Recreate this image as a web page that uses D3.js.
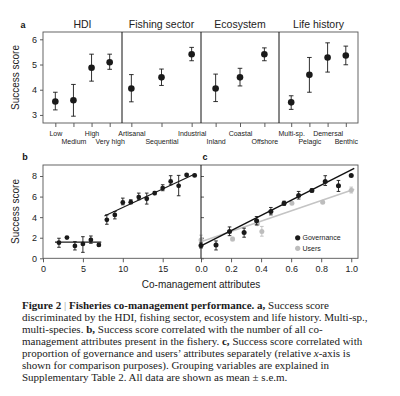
<!DOCTYPE html>
<html><head><meta charset="utf-8">
<script src="https://cdn.jsdelivr.net/npm/d3@7"></script>
<style>
body{margin:0;background:#fff;}
svg{display:block;}
.cap{font-family:"Liberation Serif","Times New Roman",serif;font-size:11px;fill:#1a1a1a;}
</style></head><body>
<svg id="chart" width="400" height="396"></svg>
<script>
// ---------- DATA ----------
const panelTitles = ["HDI", "Fishing sector", "Ecosystem", "Life history"];
const hdiCats = ["Low", "Medium", "High", "Very high"];
const hdiMean = [3.53, 3.58, 4.87, 5.09];
const hdiLo   = [3.20, 2.95, 4.34, 4.81];
const hdiHi   = [3.90, 4.21, 5.41, 5.41];
const sectorCats = ["Artisanal", "Sequential", "Industrial"];
const sectorMean = [4.05, 4.49, 5.41];
const sectorLo   = [3.52, 4.17, 5.15];
const sectorHi   = [4.60, 4.82, 5.68];
const ecoCats = ["Inland", "Coastal", "Offshore"];
const ecoMean = [4.05, 4.49, 5.41];
const ecoLo   = [3.53, 4.15, 5.15];
const ecoHi   = [4.62, 4.85, 5.66];
const lifeCats = ["Multi-sp.", "Pelagic", "Demersal", "Benthic"];
const lifeMean = [3.50, 4.59, 5.28, 5.36];
const lifeLo   = [3.22, 3.90, 4.70, 4.99];
const lifeHi   = [3.76, 5.28, 5.86, 5.73];
const aYTicks = [3, 4, 5, 6];

const bX    = [2, 3, 4, 5, 6, 7, 8, 9, 10, 11, 12, 13, 14, 15, 16, 17, 18, 19];
const bMean = [1.52, 2.01, 1.20, 1.40, 1.78, 1.30, 3.74, 4.22, 5.43, 5.46, 5.95, 5.79, 6.34, 6.83, 7.47, 7.05, 8.10, 8.06];
const bLo   = [1.07, 1.95, 0.81, 0.58, 1.46, 1.22, 3.31, 3.83, 5.20, 5.30, 5.69, 5.27, 6.18, 6.57, 7.15, 6.08, 8.03, 7.95];
const bHi   = [1.95, 2.07, 1.62, 2.10, 2.17, 1.38, 4.22, 4.55, 5.85, 5.69, 6.34, 6.34, 6.50, 7.15, 8.03, 8.06, 8.17, 8.15];
// fitted lines in b: [xStart, xEnd, intercept, slope]
const bFitFlat = [1.5, 7.3, 1.58, 0];
const bFitLin  = [7.7, 19.1, 1.34, 0.36];
const bYTicks = [0, 2, 4, 6, 8];
const bXTicks = [0, 5, 10, 15];

const govX    = [0.0, 0.10, 0.19, 0.287, 0.37, 0.465, 0.553, 0.65, 0.738, 0.827, 0.915, 1.0];
const govMean = [1.25, 1.30, 2.60, 2.50, 3.64, 4.55, 5.36, 6.11, 6.60, 7.47, 7.05, 8.06];
const govLo   = [1.00, 0.81, 2.20, 2.05, 3.25, 4.22, 5.15, 5.76, 6.45, 7.08, 6.50, 7.95];
const govHi   = [1.50, 1.69, 3.05, 2.93, 4.06, 4.94, 5.55, 6.50, 6.75, 8.03, 7.57, 8.15];
const usrX    = [0.0, 0.21, 0.375, 0.405, 0.605, 0.81, 1.0];
const usrMean = [1.78, 1.88, 3.35, 2.60, 5.36, 5.46, 6.62];
const usrLo   = [1.35, 1.70, 3.20, 2.15, 5.25, 5.35, 6.35];
const usrHi   = [2.25, 2.05, 3.50, 3.10, 5.48, 5.58, 6.92];
// fitted lines in c: [xStart, xEnd, intercept, slope]
const govFit = [0, 1.02, 1.20, 7.40];
const usrFit = [0, 1.02, 1.62, 5.00];
const cXTicks = [0, 0.2, 0.4, 0.6, 0.8, 1.0];
const legendLabels = ["Governance", "Users"];

const captionLines = [
  [["Figure 2 ", "b"], ["| ", "sep"], ["Fisheries co-management performance.", "b"], ["  ", ""], ["a,", "b"], [" Success score", ""]],
  [["discriminated by the HDI, fishing sector, ecosystem and life history. Multi-sp.,", ""]],
  [["multi-species. ", ""], ["b,", "b"], [" Success score correlated with the number of all co-", ""]],
  [["management attributes present in the fishery. ", ""], ["c,", "b"], [" Success score correlated with", ""]],
  [["proportion of governance and users\u2019 attributes separately (relative ", ""], ["x", "i"], ["-axis is", ""]],
  [["shown for comparison purposes). Grouping variables are explained in", ""]],
  [["Supplementary Table 2. All data are shown as mean \u00b1 s.e.m.", ""]]
];

// ---------- LAYOUT ----------
const sans = "'Liberation Sans', Arial, Helvetica, sans-serif";
const svg = d3.select("#chart");
const ink = "#1a1a1a";

// Panel a
const aTop = 32, aBot = 123;
const aBounds = [43, 122, 201, 279, 358];
const aPad = [0.68, 0.31, 0.6, 0.67];
const aStagger = [[0,1,0,1],[0,1,0],[1,0,1],[0,1,0,1]];
const yA = d3.scaleLinear().domain([2.68, 6.29]).range([aBot, aTop]);

const aGroups = [
  {cats: hdiCats, m: hdiMean, lo: hdiLo, hi: hdiHi},
  {cats: sectorCats, m: sectorMean, lo: sectorLo, hi: sectorHi},
  {cats: ecoCats, m: ecoMean, lo: ecoLo, hi: ecoHi},
  {cats: lifeCats, m: lifeMean, lo: lifeLo, hi: lifeHi}
];

function styleAxis(g, size) {
  g.select(".domain").remove();
  g.selectAll(".tick line").attr("stroke", "#333").attr("stroke-width", 0.8);
  g.selectAll("text").attr("font-family", sans).attr("font-size", size).attr("fill", "#222");
}

function errBars(g, data, xs, ys, color, cap, r) {
  const gg = g.append("g");
  data.forEach(d => {
    const x = xs(d.x);
    gg.append("line").attr("x1", x).attr("x2", x).attr("y1", ys(d.lo)).attr("y2", ys(d.hi))
      .attr("stroke", color).attr("stroke-width", 0.9);
    [d.lo, d.hi].forEach(v => gg.append("line").attr("x1", x - cap).attr("x2", x + cap)
      .attr("y1", ys(v)).attr("y2", ys(v)).attr("stroke", color).attr("stroke-width", 0.9));
  });
  gg.selectAll("circle").data(data).join("circle")
    .attr("cx", d => xs(d.x)).attr("cy", d => ys(d.m)).attr("r", r).attr("fill", color);
}

// left y axis a
svg.append("g").attr("transform", `translate(${aBounds[0]},0)`)
  .call(d3.axisLeft(yA).tickValues(aYTicks).tickSize(3).tickPadding(3).tickFormat(d3.format("d")))
  .call(g => styleAxis(g, 9));

aGroups.forEach((grp, i) => {
  const xs = d3.scalePoint().domain(grp.cats).range([aBounds[i], aBounds[i+1]]).padding(aPad[i]);
  const ax = svg.append("g").attr("transform", `translate(0,${aBot})`)
    .call(d3.axisBottom(xs).tickSize(4).tickPadding(2));
  styleAxis(ax, 7);
  ax.selectAll(".tick text").attr("dy", 0).attr("y", (d, j) => aStagger[i][j] ? 21 : 12.5);
  svg.append("text").attr("x", (aBounds[i] + aBounds[i+1]) / 2).attr("y", 27.5)
    .attr("text-anchor", "middle").attr("font-family", sans).attr("font-size", 10.5)
    .attr("fill", "#222").text(panelTitles[i]);
  const data = grp.cats.map((c, j) => ({x: c, m: grp.m[j], lo: grp.lo[j], hi: grp.hi[j]}));
  errBars(svg, data, xs, yA, ink, 2.3, 3.3);
});

// frame a
svg.append("rect").attr("x", aBounds[0]).attr("y", aTop).attr("width", aBounds[4] - aBounds[0])
  .attr("height", aBot - aTop).attr("fill", "none").attr("stroke", "#555").attr("stroke-width", 0.9);
aBounds.slice(1, 4).forEach(x => svg.append("line").attr("x1", x).attr("x2", x)
  .attr("y1", aTop).attr("y2", aBot).attr("stroke", "#111").attr("stroke-width", 1));

// Panel b & c
const bTop = 165, bBot = 258.3, bL = 43, bR = 201, cR = 358;
const yB = d3.scaleLinear().domain([0, 9.07]).range([bBot, bTop]);
const xB = d3.scaleLinear().domain([0, 19.8]).range([bL, bR]);
const xC = d3.scaleLinear().domain([0, 1.045]).range([bR, cR]);

svg.append("g").attr("transform", `translate(${bL},0)`)
  .call(d3.axisLeft(yB).tickValues(bYTicks).tickSize(3).tickPadding(3).tickFormat(d3.format("d")))
  .call(g => styleAxis(g, 9));
svg.append("g").attr("transform", `translate(${bR},0)`)
  .call(d3.axisRight(yB).tickValues(bYTicks).tickSize(3).tickFormat(""))
  .call(g => styleAxis(g, 9));
svg.append("g").attr("transform", `translate(0,${bBot})`)
  .call(d3.axisBottom(xB).tickValues(bXTicks).tickSize(4).tickPadding(3).tickFormat(d3.format("d")))
  .call(g => styleAxis(g, 9));
svg.append("g").attr("transform", `translate(0,${bBot})`)
  .call(d3.axisBottom(xC).tickValues(cXTicks).tickSize(4).tickPadding(3).tickFormat(d3.format(".1f")))
  .call(g => styleAxis(g, 9));

function fitLine(fit, xs, color, w) {
  svg.append("line").attr("x1", xs(fit[0])).attr("x2", xs(fit[1]))
    .attr("y1", yB(fit[2] + fit[3] * fit[0])).attr("y2", yB(fit[2] + fit[3] * fit[1]))
    .attr("stroke", color).attr("stroke-width", w);
}
fitLine(bFitFlat, xB, ink, 1.2);
fitLine(bFitLin, xB, ink, 1.2);
errBars(svg, bX.map((x, j) => ({x, m: bMean[j], lo: bLo[j], hi: bHi[j]})), xB, yB, ink, 1.8, 2.4);

const gray = "#bdbdbd";
fitLine(usrFit, xC, "#c4c4c4", 1.6);
errBars(svg, usrX.map((x, j) => ({x, m: usrMean[j], lo: usrLo[j], hi: usrHi[j]})), xC, yB, gray, 1.8, 2.5);
fitLine(govFit, xC, "#111", 1.4);
errBars(svg, govX.map((x, j) => ({x, m: govMean[j], lo: govLo[j], hi: govHi[j]})), xC, yB, ink, 1.8, 2.5);

// frame b/c
svg.append("rect").attr("x", bL).attr("y", bTop).attr("width", cR - bL).attr("height", bBot - bTop)
  .attr("fill", "none").attr("stroke", "#555").attr("stroke-width", 0.9);
svg.append("line").attr("x1", bR).attr("x2", bR).attr("y1", bTop).attr("y2", bBot)
  .attr("stroke", "#111").attr("stroke-width", 1);

// legend
[[ink, legendLabels[0], 237.8], [gray, legendLabels[1], 248.3]].forEach(([c, t, y]) => {
  svg.append("circle").attr("cx", 297.7).attr("cy", y).attr("r", 2.6).attr("fill", c);
  svg.append("text").attr("x", 302.5).attr("y", y + 2.5).attr("font-family", sans)
    .attr("font-size", 7).attr("fill", "#222").text(t);
});

// axis titles
svg.append("text").attr("transform", "translate(18.5,77.5) rotate(-90)").attr("text-anchor", "middle")
  .attr("font-family", sans).attr("font-size", 10).attr("fill", "#222").text("Success score");
svg.append("text").attr("transform", "translate(18.5,211.5) rotate(-90)").attr("text-anchor", "middle")
  .attr("font-family", sans).attr("font-size", 10).attr("fill", "#222").text("Success score");
svg.append("text").attr("x", 201).attr("y", 288).attr("text-anchor", "middle")
  .attr("font-family", sans).attr("font-size", 10).attr("fill", "#222").text("Co-management attributes");

// panel letters
[["a", 23, 27.5], ["b", 25, 160], ["c", 205, 160]].forEach(([t, x, y]) => {
  svg.append("text").attr("x", x).attr("y", y).attr("text-anchor", "middle")
    .attr("font-family", sans).attr("font-weight", "bold")
    .attr("font-size", 9).attr("fill", "#111").text(t);
});

// caption
const cap = svg.append("text").attr("class", "cap");
captionLines.forEach((line, li) => {
  line.forEach(([t, s], k) => {
    const ts = cap.append("tspan").text(t);
    if (k === 0) ts.attr("x", 22).attr("y", 309 + li * 12);
    if (s === "b") ts.attr("font-weight", "bold");
    if (s === "i") ts.attr("font-style", "italic");
    if (s === "sep") ts.attr("fill", "#999").attr("font-weight", "normal");
  });
});
</script>
</body></html>
